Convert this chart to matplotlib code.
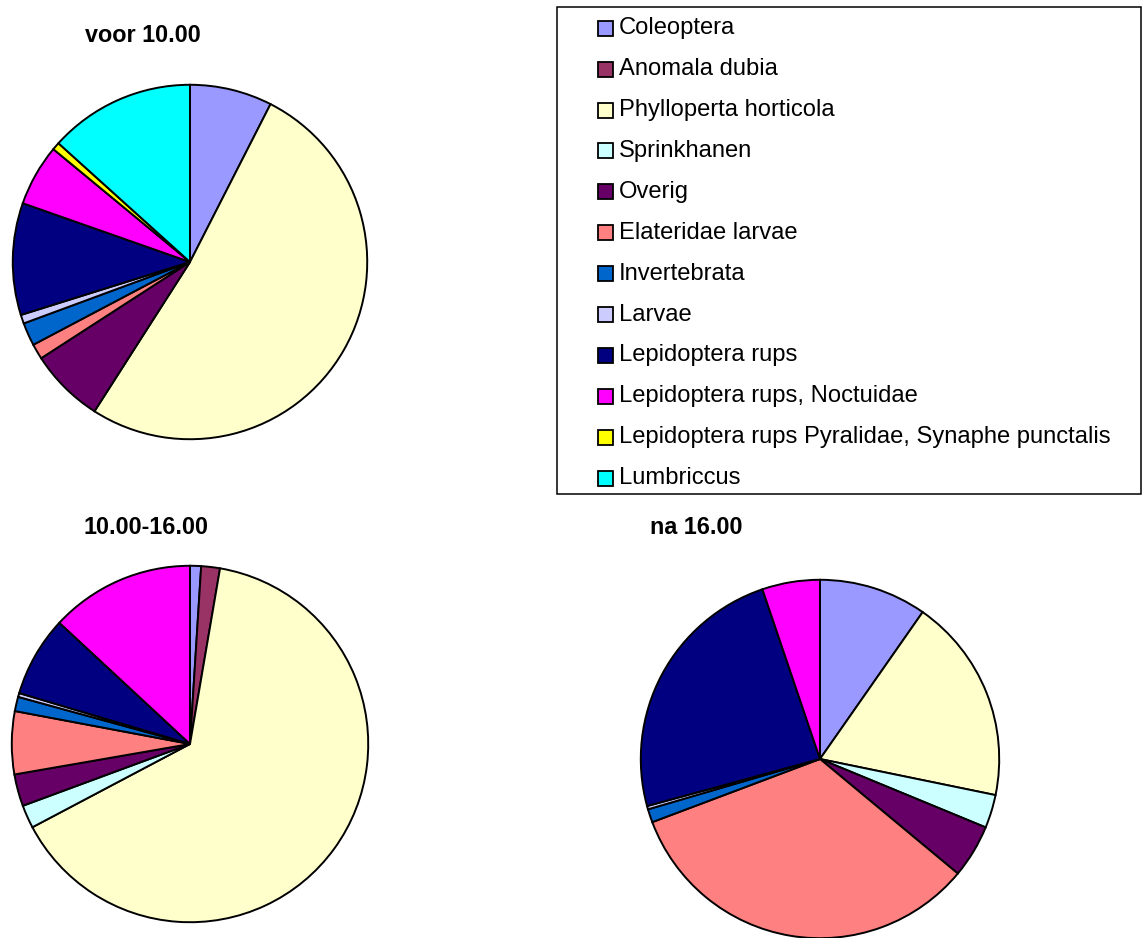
import matplotlib
matplotlib.use("Agg")
import matplotlib.pyplot as plt
from matplotlib.patches import Rectangle

plt.rcParams['font.family'] = ['Liberation Sans', 'DejaVu Sans']

categories = [
    "Coleoptera", "Anomala dubia", "Phylloperta horticola", "Sprinkhanen",
    "Overig", "Elateridae larvae", "Invertebrata", "Larvae",
    "Lepidoptera rups", "Lepidoptera rups, Noctuidae",
    "Lepidoptera rups Pyralidae, Synaphe punctalis", "Lumbriccus",
]
colors = [
    "#9999FF", "#993366", "#FFFFCC", "#CCFFFF", "#660066", "#FF8080",
    "#0066CC", "#CCCCFF", "#000080", "#FF00FF", "#FFFF00", "#00FFFF",
]

# percentage share per period
voor_10 = [7.5, 0.0, 51.5, 0.0, 6.8, 1.4, 2.1, 0.8, 10.2, 5.6, 0.7, 13.3]
tussen_10_16 = [1.0, 1.7, 64.6, 2.1, 2.9, 5.7, 1.3, 0.35, 7.3, 13.1, 0.0, 0.0]
na_16 = [9.7, 0.0, 18.5, 3.0, 4.8, 33.2, 1.2, 0.3, 24.0, 5.2, 0.0, 0.0]

titles = ["voor 10.00", "10.00-16.00", "na 16.00"]

W, H = 1142, 938
fig = plt.figure(figsize=(W / 100, H / 100), dpi=100)


def px_axes(cx, cy, r):
    return fig.add_axes([(cx - r) / W, (H - cy - r) / H, 2 * r / W, 2 * r / H])


def draw_pie(ax, values):
    vals = [v for v in values if v > 0]
    cols = [c for v, c in zip(values, colors) if v > 0]
    ax.pie(vals, colors=cols, startangle=90, counterclock=False, radius=1,
           wedgeprops=dict(edgecolor="black", linewidth=1.4))
    ax.set_xlim(-1.01, 1.01)
    ax.set_ylim(-1.01, 1.01)
    ax.set_aspect("equal")
    ax.axis("off")


pies = [
    (voor_10, (190, 262, 179), (142.5, 35)),
    (tussen_10_16, (190, 744, 180), (146, 527)),
    (na_16, (820, 759, 181), (696, 527)),
]

for (values, (cx, cy, r), (tx, ty)), title in zip(pies, titles):
    ax = px_axes(cx, cy, r)
    draw_pie(ax, values)
    fig.text(tx / W, 1 - ty / H, title, ha="center", va="center",
             fontsize=16.8, fontweight="bold")

# legend box
fig.patches.append(Rectangle((557 / W, 1 - 494 / H), (1141 - 557) / W, (494 - 7) / H,
                             transform=fig.transFigure, fill=False,
                             edgecolor="black", linewidth=1.1))
row0, step = 28.3, 40.9
sq = 15
for i, (label, col) in enumerate(zip(categories, colors)):
    y = row0 + i * step
    fig.patches.append(Rectangle((598 / W, 1 - (y + sq / 2) / H), sq / W, sq / H,
                                 transform=fig.transFigure, facecolor=col,
                                 edgecolor="black", linewidth=1.3))
    fig.text(619 / W, 1 - y / H, label, ha="left", va="center", fontsize=17.1)

fig.savefig("out.png", dpi=100)
